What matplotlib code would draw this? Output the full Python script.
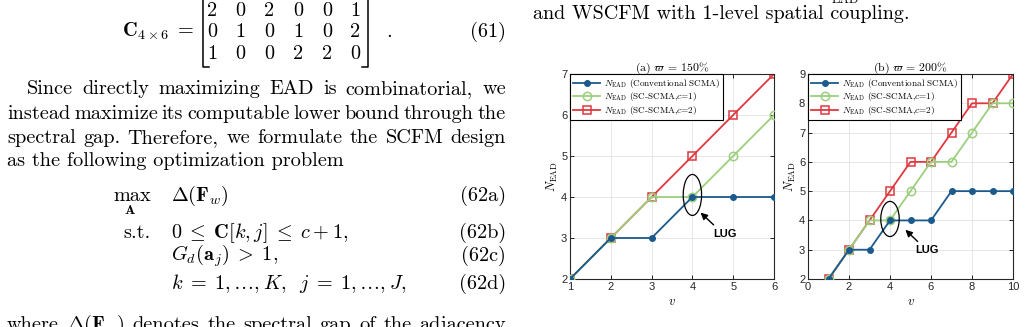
import numpy as np
import matplotlib
matplotlib.use("Agg")
import matplotlib.pyplot as plt
from matplotlib.lines import Line2D
from matplotlib.patches import Ellipse

plt.rcParams['mathtext.fontset'] = 'cm'
plt.rcParams['axes.unicode_minus'] = False

# Data: panel (a) varpi = 150%
v_a = [1, 2, 3, 4, 5, 6]
conv_a = [2, 3, 3, 4, 4, 4]
sc1_a = [2, 3, 4, 4, 5, 6]
sc2_a = [2, 3, 4, 5, 6, 7]

# Data: panel (b) varpi = 200%
v_b = [1, 2, 3, 4, 5, 6, 7, 8, 9, 10]
conv_b = [2, 3, 3, 4, 4, 4, 5, 5, 5, 5]
sc1_b = [2, 3, 4, 4, 5, 6, 6, 7, 8, 8]
sc2_b = [2, 3, 4, 5, 6, 6, 7, 8, 8, 9]

# matrix of eq. (61)
C_mat = [[2, 0, 2, 0, 0, 1],
         [0, 1, 0, 1, 0, 2],
         [1, 0, 0, 2, 2, 0]]

W, H = 1025, 327
fig = plt.figure(figsize=(W / 100, H / 100), dpi=100)
renderer = fig.canvas.get_renderer()

SERIF = 'cmr10'
TXT = 14.6


def px(x):
    return x / W


def py(y):
    return 1 - y / H


def put(x, y, s, size=TXT, ha='left', **kw):
    return fig.text(px(x), py(y), s, fontsize=size, family=SERIF,
                    ha=ha, va='baseline', **kw)


def put_line(words, x0, x1, y, size=TXT):
    # justified line: spread the words between x0 and x1
    texts = [put(x0, y, w, size) for w in words]
    widths = [t.get_window_extent(renderer).width for t in texts]
    gap = (x1 - x0 - sum(widths)) / (len(words) - 1)
    x = x0
    for t, w in zip(texts, widths):
        t.set_x(px(x))
        x += w + gap


# ---- left column text ----
put(194, 37, r'$\mathbf{C}_{4\times 6}\;=$', ha='right')
col_x = [212, 240, 269, 298, 327, 355]
row_y = [16, 37, 59]
for i, row in enumerate(C_mat):
    for j, val in enumerate(row):
        put(col_x[j], row_y[i], str(val), ha='center')
for xb, xt in [(203, 209), (368, 362)]:
    fig.add_artist(Line2D([px(xt), px(xb), px(xb), px(xt)],
                          [py(-6), py(-6), py(67), py(67)], color='k', lw=1.1))
put(386, 37, '.')
put(506, 37, '(61)', ha='right')

put_line('Since directly maximizing EAD is combinatorial, we'.split(), 27, 506, 94)
put_line('instead maximize its computable lower bound through the'.split(), 7, 506, 119)
put_line('spectral gap. Therefore, we formulate the SCFM design'.split(), 7, 506, 143)
put(7, 166, 'as the following optimization problem')

put(113, 201, 'max')
put(130, 214, r'$\mathbf{A}$', size=10, ha='center')
put(171, 201, r'$\Delta(\mathbf{F}_w)$')
put(150, 238, 's.t.', ha='right')
put(171, 238, r'$0\;\leq\;\mathbf{C}[k,j]\;\leq\;c+1,$')
put(171, 261, r'$G_d(\mathbf{a}_j)\;>\;1,$')
put(171, 289, r'$k\;=\;1,\ldots,K,\;\;j\;=\;1,\ldots,J,$')
for lab, yy in [('(62a)', 201), ('(62b)', 238), ('(62c)', 261), ('(62d)', 289)]:
    put(506, yy, lab, ha='right')
put_line(['where', r'$\Delta(\mathbf{F}_w)$', 'denotes', 'the', 'spectral',
          'gap', 'of', 'the', 'adjacency'], 7, 506, 330)

# ---- right column text ----
put(832, 3, 'EAD', size=9)
put(533, 19, 'and WSCFM with 1-level spatial coupling.', size=14.5)

# ---- charts ----
BLUE = '#1b5a8c'
GREEN = '#9ccf7d'
RED = '#e0383f'
SANS = 'Liberation Sans'


def make_panel(rect, v, conv, sc1, sc2, xlim, ylim, title, ell, lug_xy, tail_xy, tip_xy):
    ax = fig.add_axes(rect)
    ax.plot(v, conv, '-o', color=BLUE, lw=1.3, ms=4, mfc=BLUE, mec=BLUE,
            label=r'$N_{\mathrm{EAD}}$ (Conventional SCMA)', zorder=4)
    ax.plot(v, sc1, '-o', color=GREEN, lw=1.3, ms=6, mfc='none', mew=1.1,
            label=r'$N_{\mathrm{EAD}}$ (SC-SCMA,$c$=1)', zorder=3)
    ax.plot(v, sc2, '-s', color=RED, lw=1.3, ms=6, mfc='none', mew=1.1,
            label=r'$N_{\mathrm{EAD}}$ (SC-SCMA,$c$=2)', zorder=2)
    ax.set_xlim(xlim)
    ax.set_ylim(ylim)
    ax.grid(True, color='#e3e3e3', lw=0.6)
    ax.set_axisbelow(True)
    ax.tick_params(direction='in', length=3, width=0.6, top=True, right=True,
                   labelsize=8, pad=2)
    for lbl in ax.get_xticklabels() + ax.get_yticklabels():
        lbl.set_family(SANS)
        lbl.set_color('#262626')
    for sp in ax.spines.values():
        sp.set_linewidth(0.8)
        sp.set_color('#262626')
    ax.set_title(title, fontsize=8.5, family=SERIF, pad=2)
    ax.set_xlabel(r'$v$', fontsize=9, labelpad=2)
    ax.set_ylabel(r'$N_{\mathrm{EAD}}$', fontsize=9, labelpad=1)
    leg = ax.legend(loc='upper left', bbox_to_anchor=(0, 1), borderaxespad=0,
                    fancybox=False, edgecolor='k', framealpha=1,
                    prop={'family': SERIF, 'size': 6.6}, handlelength=3.0,
                    borderpad=0.3, labelspacing=0.08, handletextpad=0.4)
    leg.get_frame().set_linewidth(0.8)
    ax.add_patch(Ellipse(ell[:2], ell[2], ell[3], fill=False, ec='k', lw=0.9, zorder=5))
    ax.annotate('', xy=tip_xy, xytext=tail_xy,
                arrowprops=dict(arrowstyle='-|>', color='k', lw=1.0,
                                mutation_scale=10, shrinkA=0, shrinkB=0))
    ax.text(lug_xy[0], lug_xy[1], 'LUG', fontsize=8, family=SANS,
            fontweight='bold', ha='center', va='center')
    return ax


ax1 = make_panel([570 / W, 1 - 279 / H, 204 / W, 205 / H], v_a, conv_a, sc1_a, sc2_a,
                 (1, 6), (2, 7), r'(a) $\varpi$ = 150%',
                 (4.0, 4.05, 0.45, 1.0), (4.8, 3.1), (4.52, 3.32), (4.2, 3.62))
ax1.set_xticks(range(1, 7))

ax2 = make_panel([808 / W, 1 - 279 / H, 205 / W, 205 / H], v_b, conv_b, sc1_b, sc2_b,
                 (0, 10), (2, 9), r'(b) $\varpi$ = 200%',
                 (4.0, 4.05, 0.9, 1.2), (5.8, 3.0), (5.35, 3.28), (4.75, 3.68))
ax2.set_xticks(range(0, 11, 2))

fig.savefig('out.png', dpi=100)
